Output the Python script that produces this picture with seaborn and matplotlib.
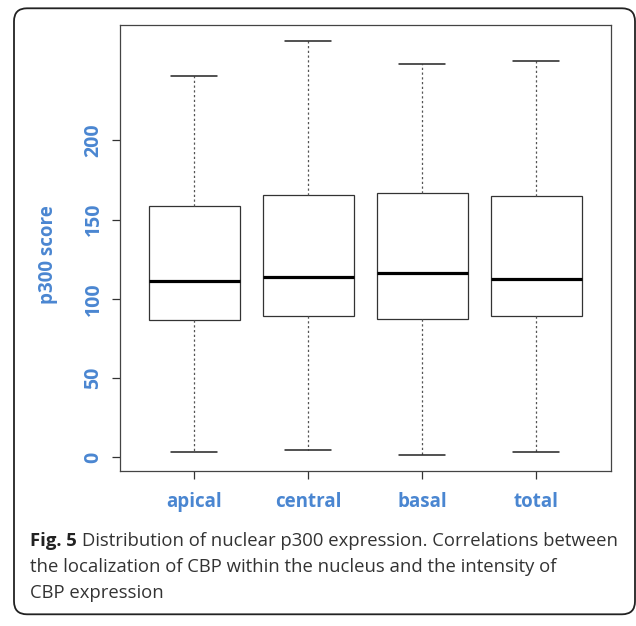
import numpy as np
import pandas as pd
import matplotlib as mpl
import matplotlib.pyplot as plt
from matplotlib.patches import FancyBboxPatch
from matplotlib.transforms import IdentityTransform
import seaborn as sns

# five-number summaries (whiskers = min/max)
regions = ["apical", "central", "basal", "total"]
whisker_low = [3.5, 4.8, 1.6, 3.5]
q1 = [86.6, 89.3, 87.4, 89.3]
medians = [111.2, 113.6, 116.1, 112.3]
q3 = [158.5, 165.4, 166.6, 164.7]
whisker_high = [240.4, 262.5, 248.1, 250.2]
y_ticks = [0, 50, 100, 150, 200]

rows = []
for i, r in enumerate(regions):
    for v in [whisker_low[i], q1[i], medians[i], q3[i], whisker_high[i]]:
        rows.append({"region": r, "score": v})
df = pd.DataFrame(rows)

sns.set_style("white")
plt.rcParams['font.family'] = ['Open Sans', 'DejaVu Sans']

blue = "#4a86d1"
W, H = 636, 626
fig = plt.figure(figsize=(W / 100, H / 100), dpi=100)
ax = fig.add_axes([119.5 / W, 1 - 470.7 / H, (611 - 119.5) / W, (470.7 - 24.7) / H])

sns.boxplot(data=df, x="region", y="score", ax=ax, whis=(0, 100), width=0.8,
            color="white", linecolor="#333333", linewidth=0.9, showfliers=False,
            medianprops=dict(color="black", linewidth=2.3),
            whiskerprops=dict(color="#555555", linestyle=(0, (1.8, 2.0))),
            capprops=dict(color="#222222", linewidth=1.1))

ax.set_xlim(-0.656, 3.656)
ax.set_ylim(-8.45, 272.9)
ax.set_yticks(y_ticks)
ax.set_yticklabels([str(t) for t in y_ticks], rotation=90, va="center",
                   color=blue, fontweight="bold", fontsize=14)
ax.set_xticks(range(len(regions)))
ax.set_xticklabels(regions, color=blue, fontweight="bold", fontsize=13.5)
ax.set_xlabel("")
ax.set_ylabel("")
ax.tick_params(axis="both", length=5.5, width=0.9, color="#333333", left=True, bottom=True)
ax.tick_params(axis="y", pad=6)
ax.tick_params(axis="x", pad=10)
for s in ax.spines.values():
    s.set_visible(True)
    s.set_color("#444444")
    s.set_linewidth(0.9)

fig.text(48 / W, 1 - 255 / H, "p300 score", rotation=90, ha="center", va="center",
         color=blue, fontweight="bold", fontsize=13.5)

# caption
cap_color = "#333333"
cap_size = 13.3
t0 = fig.text(30 / W, 1 - 545.5 / H, "Fig. 5", fontweight="bold", fontsize=cap_size,
              color="#222222", va="baseline")
fig.canvas.draw()
bb = t0.get_window_extent()
fig.text((bb.x1 + 5) / W, 1 - 545.5 / H,
         "Distribution of nuclear p300 expression. Correlations between",
         fontsize=cap_size, color=cap_color, va="baseline")
fig.text(30 / W, 1 - 571.5 / H, "the localization of CBP within the nucleus and the intensity of",
         fontsize=cap_size, color=cap_color, va="baseline")
fig.text(30 / W, 1 - 597.5 / H, "CBP expression",
         fontsize=cap_size, color=cap_color, va="baseline")

# rounded frame around the figure
frame = FancyBboxPatch((14, H - 614.3), 621, 606, boxstyle="round,pad=0,rounding_size=13",
                       transform=IdentityTransform(), fill=False, edgecolor="#222222",
                       linewidth=1.3)
fig.add_artist(frame)

fig.savefig("out.png", dpi=100)
